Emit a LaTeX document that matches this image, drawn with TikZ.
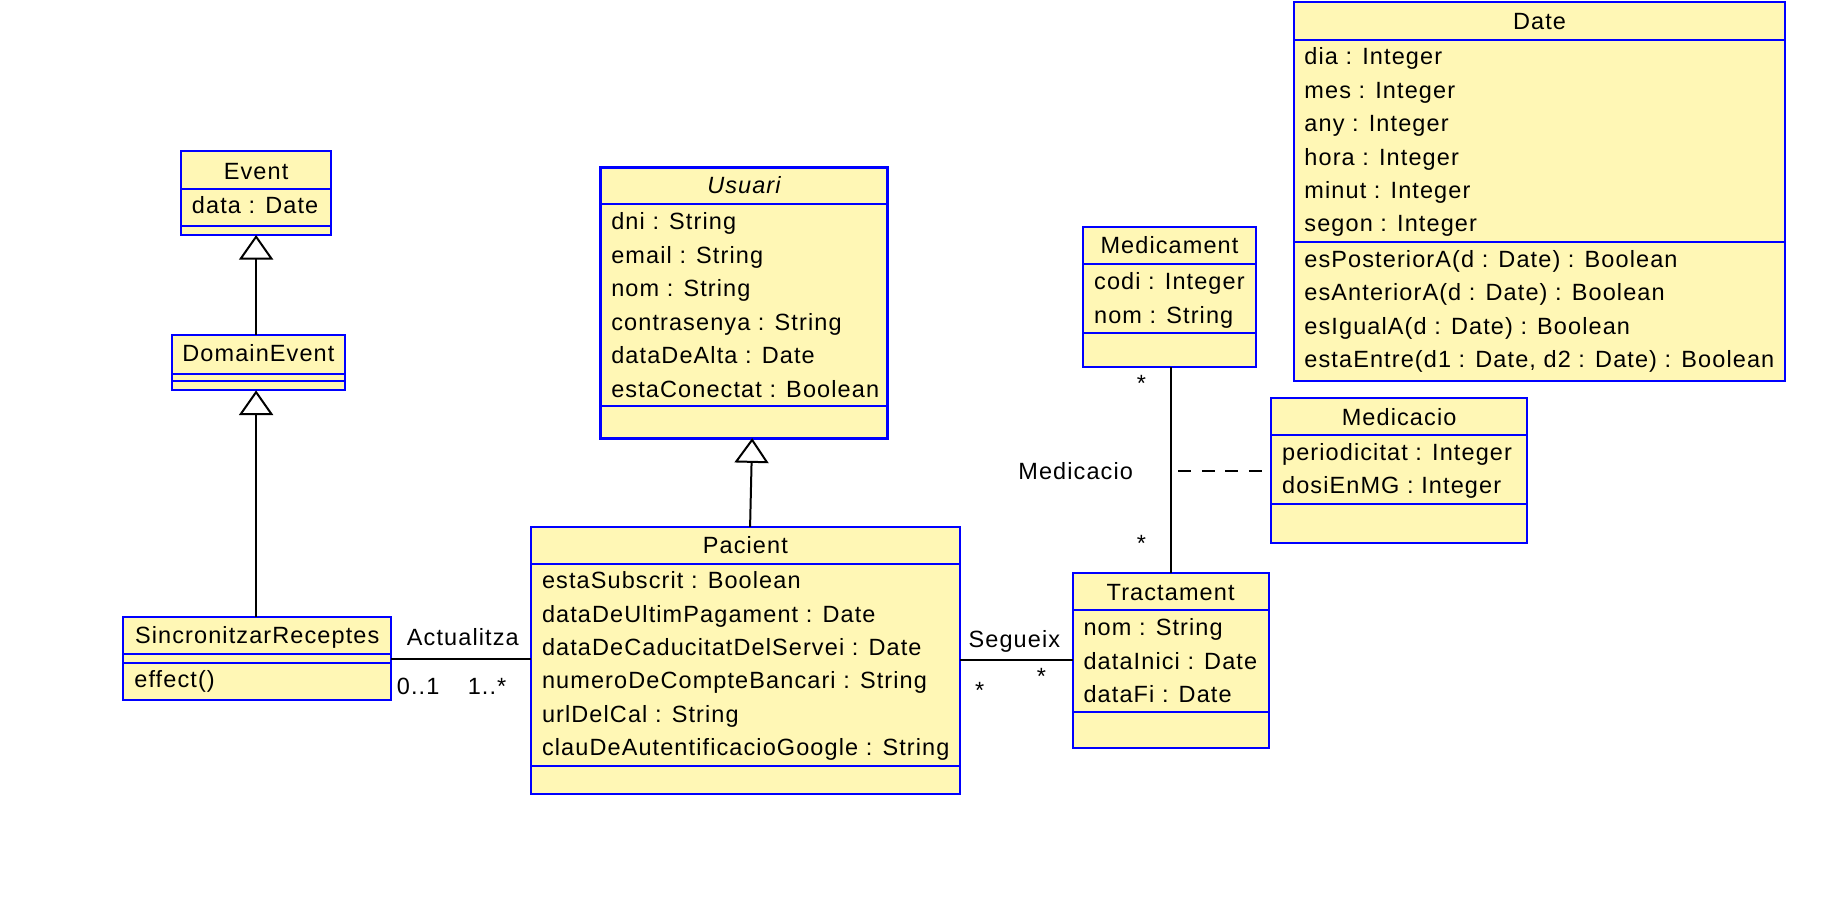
\documentclass[tikz,border=0pt]{standalone}
\usepackage{fontspec}
\setmainfont{Liberation Sans}[LetterSpace=4.7]
\usetikzlibrary{arrows.meta}
\definecolor{umlfill}{HTML}{FFF7B5}
\definecolor{umlblue}{HTML}{0000FF}
\newcommand{\umlbox}[5]{\node[classbox, anchor=north west, minimum width={(#4-#2)*0.5pt}, minimum height={(#5-#3)*0.5pt}] (#1) at (#2,#3) {};}
\begin{document}
\begin{tikzpicture}[x=0.5pt,y=-0.5pt, font=\fontsize{10}{12}\selectfont,
 classbox/.style={draw=umlblue, fill=umlfill, line width=0.85pt, inner sep=0pt, outer sep=0pt},
 divider/.style={draw=umlblue, line width=0.85pt},
 attr/.style={anchor=base west, inner sep=0pt},
 ttl/.style={anchor=base, inner sep=0pt},
 lbl/.style={anchor=base, inner sep=0pt},
 conn/.style={draw=black, line width=0.85pt},
 gen/.style={conn, -{Triangle[length=10.5pt, width=14.5pt, fill=white]}},
 dashconn/.style={conn, dash pattern=on 5.5pt off 4.5pt},
]
\useasboundingbox (0,0) rectangle (1568,777);

% ---------- Date ----------
\umlbox{date}{1101.5}{1.5}{1519.5}{324}
\draw[divider] (date.west |- 0,34) -- (date.east |- 0,34);
\draw[divider] (date.west |- 0,205.7) -- (date.east |- 0,205.7);
\node[ttl] (date-t) at (1310.5,25) {Date};
\node[attr] (date-a1) at (1110,55) {dia : Integer};
\node[attr] (date-a2) at (1110,83.5) {mes : Integer};
\node[attr] (date-a3) at (1110,112) {any : Integer};
\node[attr] (date-a4) at (1110,140.5) {hora : Integer};
\node[attr] (date-a5) at (1110,169) {minut : Integer};
\node[attr] (date-a6) at (1110,197) {segon : Integer};
\node[attr] (date-m1) at (1110,227.5) {esPosteriorA(d : Date) : Boolean};
\node[attr] (date-m2) at (1110,256) {esAnteriorA(d : Date) : Boolean};
\node[attr] (date-m3) at (1110,284.5) {esIgualA(d : Date) : Boolean};
\node[attr] (date-m4) at (1110,312.5) {estaEntre(d1 : Date, d2 : Date) : Boolean};

% ---------- Event ----------
\umlbox{event}{154}{128.5}{282}{200}
\draw[divider] (event.west |- 0,161) -- (event.east |- 0,161);
\draw[divider] (event.west |- 0,192) -- (event.east |- 0,192);
\node[ttl] (event-t) at (218,153) {Event};
\node[attr] (event-a1) at (163,182) {data : Date};

% ---------- DomainEvent ----------
\umlbox{domain}{146}{285}{294}{332.3}
\draw[divider] (domain.west |- 0,318) -- (domain.east |- 0,318);
\draw[divider] (domain.west |- 0,324.7) -- (domain.east |- 0,324.7);
\node[ttl] (domain-t) at (220,308) {DomainEvent};

% ---------- SincronitzarReceptes ----------
\umlbox{sinc}{105}{525.5}{333}{596}
\draw[divider] (sinc.west |- 0,556.7) -- (sinc.east |- 0,556.7);
\draw[divider] (sinc.west |- 0,564) -- (sinc.east |- 0,564);
\node[ttl] (sinc-t) at (219,547.5) {SincronitzarReceptes};
\node[attr] (sinc-m1) at (114,585.5) {effect()};

% ---------- Usuari ----------
\umlbox{usuari}{511}{142.5}{755.5}{373}
\draw[divider] (usuari.west |- 0,173.5) -- (usuari.east |- 0,173.5);
\draw[divider] (usuari.west |- 0,346) -- (usuari.east |- 0,346);
\draw[umlblue, line width=1.3pt] (usuari.north west) rectangle (usuari.south east);
\node[ttl] (usuari-t) at (633.3,165) {\itshape Usuari};
\node[attr] (usuari-a1) at (520,195.7) {dni : String};
\node[attr] (usuari-a2) at (520,224.2) {email : String};
\node[attr] (usuari-a3) at (520,252.6) {nom : String};
\node[attr] (usuari-a4) at (520,281.1) {contrasenya : String};
\node[attr] (usuari-a5) at (520,309.5) {dataDeAlta : Date};
\node[attr] (usuari-a6) at (520,338) {estaConectat : Boolean};

% ---------- Pacient ----------
\umlbox{pacient}{452}{448.5}{817}{676}
\draw[divider] (pacient.west |- 0,480) -- (pacient.east |- 0,480);
\draw[divider] (pacient.west |- 0,652) -- (pacient.east |- 0,652);
\node[ttl] (pacient-t) at (634.5,471) {Pacient};
\node[attr] (pacient-a1) at (461,501) {estaSubscrit : Boolean};
\node[attr] (pacient-a2) at (461,529.5) {dataDeUltimPagament : Date};
\node[attr] (pacient-a3) at (461,558) {dataDeCaducitatDelServei : Date};
\node[attr] (pacient-a4) at (461,586.5) {numeroDeCompteBancari : String};
\node[attr] (pacient-a5) at (461,615) {urlDelCal : String};
\node[attr] (pacient-a6) at (461,643.5) {clauDeAutentificacioGoogle : String};

% ---------- Medicament ----------
\umlbox{medicament}{921.5}{193}{1069.5}{312}
\draw[divider] (medicament.west |- 0,225) -- (medicament.east |- 0,225);
\draw[divider] (medicament.west |- 0,283.5) -- (medicament.east |- 0,283.5);
\node[ttl] (medicament-t) at (995.5,216) {Medicament};
\node[attr] (medicament-a1) at (931,246.5) {codi : Integer};
\node[attr] (medicament-a2) at (931,275) {nom : String};

% ---------- Medicacio ----------
\umlbox{medicacio}{1082}{339}{1300}{462.5}
\draw[divider] (medicacio.west |- 0,370.3) -- (medicacio.east |- 0,370.3);
\draw[divider] (medicacio.west |- 0,429) -- (medicacio.east |- 0,429);
\node[ttl] (medicacio-t) at (1191,362) {Medicacio};
\node[attr] (medicacio-a1) at (1091,392) {periodicitat : Integer};
\node[attr] (medicacio-a2) at (1091,420.5) {dosiEnMG : Integer};

% ---------- Tractament ----------
\umlbox{tract}{913}{488}{1080}{636.3}
\draw[divider] (tract.west |- 0,519) -- (tract.east |- 0,519);
\draw[divider] (tract.west |- 0,606.5) -- (tract.east |- 0,606.5);
\node[ttl] (tract-t) at (996.5,511) {Tractament};
\node[attr] (tract-a1) at (922,541) {nom : String};
\node[attr] (tract-a2) at (922,569.5) {dataInici : Date};
\node[attr] (tract-a3) at (922,598) {dataFi : Date};

% ---------- Connectors ----------
\draw[gen] (domain.north -| event.south) -- (event.south);
\draw[gen] (sinc.north -| event.south) -- (domain.south -| event.south);
\draw[gen] ([xshift=2pt]pacient.north) -- ([xshift=3.5pt]usuari.south);

\draw[conn] (sinc.east) -- (sinc.east -| pacient.west);
\node[lbl] (actualitza) at (394,549.5) {Actualitza};
\node[lbl] (m01) at (356,591) {0..1};
\node[lbl] (m1n) at (414.6,591) {1..*};

\draw[conn] (tract.west) -- (tract.west -| pacient.east);
\node[lbl] (segueix) at (863.5,551) {Segueix};
\node[lbl] (segstar1) at (834,595) {*};
\node[lbl] (segstar2) at (886.5,583) {*};

\draw[conn] (tract.north) -- (tract.north |- medicament.south);
\node[lbl] (medstar1) at (971.6,333) {*};
\node[lbl] (medstar2) at (971.6,469.6) {*};
\node[lbl] (medlabel) at (915.7,408) {Medicacio};
\coordinate (dashstart) at (1003,400.75);
\draw[dashconn] (dashstart) -- (medicacio.west);
\end{tikzpicture}
\end{document}
